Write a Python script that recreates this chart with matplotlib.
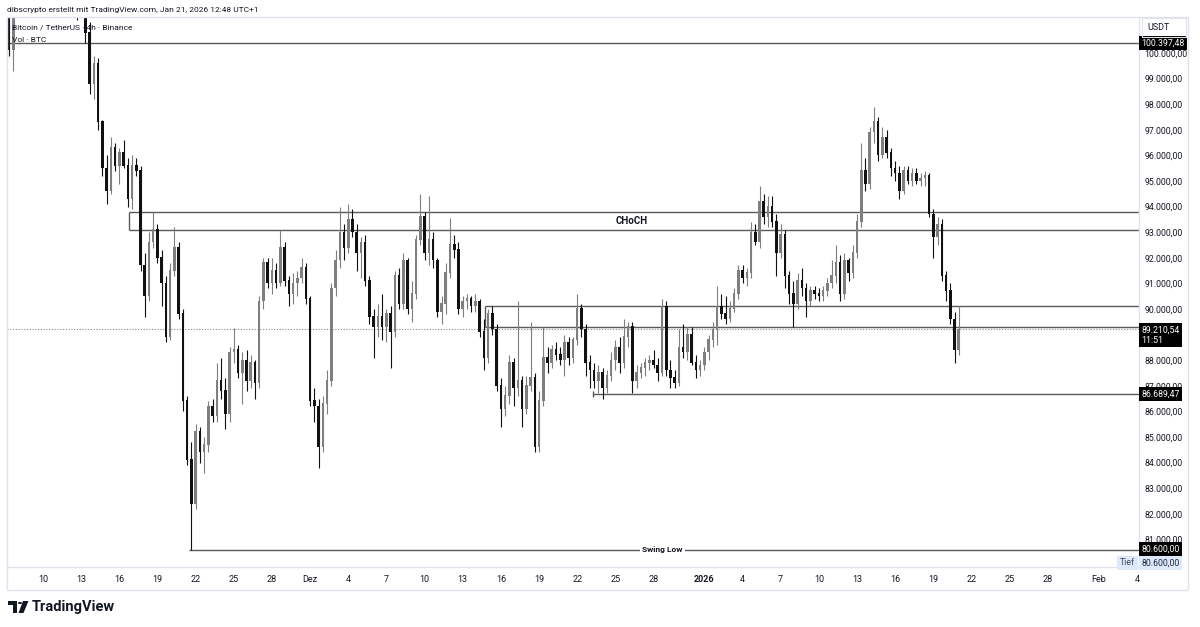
import numpy as np
import matplotlib
matplotlib.use("Agg")
import matplotlib.pyplot as plt
from matplotlib.patches import Rectangle, Polygon, Circle

plt.rcParams['font.family'] = ['Roboto', 'DejaVu Sans']

# 8h candles starting Nov 7 2025 00:00, prices in thousand USDT
first_open = 102.6
close_k = [
    101.8, 100.1, 101.5, 102.8, 102.3, 102.0, 102.5, 103.6, 104.8, 105.9,
    105.4, 106.0, 105.2, 104.1, 103.0, 104.5, 103.2, 102.3, 102.9, 100.8,
    98.8, 99.6, 97.3, 95.5, 94.6, 96.3, 95.6, 96.1, 95.6, 94.3,
    95.6, 95.4, 91.7, 90.5, 92.6, 93.1, 92.0, 91.0, 88.9, 91.5,
    92.4, 89.8, 86.4, 84.1, 82.4, 85.2, 84.4, 84.7, 86.2, 85.8,
    87.2, 86.8, 85.9, 88.3, 88.4, 87.5, 88.0, 87.2, 87.9, 87.1,
    90.3, 91.8, 91.0, 91.5, 91.0, 92.4, 91.1, 90.6, 91.0, 91.2,
    91.6, 90.4, 86.4, 86.2, 84.6, 86.3, 87.2, 90.8, 91.9, 93.0,
    92.4, 93.5, 93.0, 92.2, 92.6, 91.1, 89.7, 89.3, 89.7, 89.3,
    89.8, 89.1, 91.3, 90.2, 91.9, 90.0, 90.6, 92.7, 93.6, 92.2,
    92.7, 91.9, 89.9, 90.2, 91.4, 92.5, 92.3, 90.0, 90.3, 90.4,
    90.1, 90.3, 89.1, 88.1, 89.8, 89.2, 87.0, 86.1, 86.6, 87.9,
    86.9, 87.2, 86.1, 87.0, 87.3, 84.6, 86.4, 88.1, 87.9, 88.4,
    88.2, 88.0, 88.7, 88.1, 88.8, 90.0, 89.2, 87.9, 87.6, 87.2,
    87.5, 86.9, 87.4, 88.0, 88.5, 87.9, 88.9, 89.3, 87.2, 87.5,
    87.7, 87.9, 88.0, 87.8, 87.5, 90.1, 87.6, 87.3, 87.1, 88.5,
    88.3, 89.0, 87.9, 87.6, 87.8, 88.3, 88.8, 89.2, 90.1, 89.8,
    89.6, 90.0, 90.6, 91.5, 91.2, 91.4, 93.0, 92.6, 94.2, 93.6,
    94.0, 93.4, 92.2, 92.9, 91.3, 90.6, 90.2, 91.1, 90.8, 90.3,
    90.7, 90.6, 90.5, 90.7, 91.0, 91.3, 91.8, 90.6, 91.9, 91.4,
    92.2, 93.4, 95.4, 94.9, 96.9, 97.3, 96.0, 96.7, 96.1, 95.5,
    95.3, 94.6, 95.4, 95.0, 95.3, 95.0, 95.1, 95.2, 93.7, 92.8,
    93.3, 91.3, 90.7, 89.6, 88.4, 89.21054,
]
high_k = [
    103.2, 102.0, 101.8, 103.3, 103.0, 102.7, 102.9, 104.0, 105.3, 106.6,
    106.4, 106.3, 107.0, 105.6, 104.3, 105.3, 104.7, 103.6, 103.3, 104.0,
    101.2, 99.9, 99.8, 97.4, 96.0, 96.7, 96.5, 96.3, 96.6, 95.9,
    96.0, 95.9, 95.6, 92.2, 93.0, 93.8, 93.3, 92.3, 91.3, 91.8,
    93.2, 92.6, 90.0, 86.6, 84.8, 85.5, 85.4, 85.0, 86.4, 86.5,
    87.9, 88.1, 87.3, 88.5, 89.25, 88.6, 88.3, 88.4, 88.2, 88.0,
    90.5, 92.0, 92.0, 92.0, 91.8, 93.1, 92.6, 91.3, 91.4, 91.5,
    92.0, 91.8, 90.5, 86.9, 86.5, 86.6, 87.6, 91.0, 92.3, 94.0,
    93.3, 94.1, 93.9, 93.3, 92.8, 92.9, 91.3, 90.0, 90.2, 90.6,
    90.0, 90.1, 91.5, 91.6, 92.2, 92.0, 91.1, 92.9, 94.5, 93.8,
    94.4, 93.0, 92.0, 90.5, 91.8, 93.55, 92.9, 92.6, 90.5, 90.6,
    90.5, 90.6, 90.4, 89.6, 90.0, 90.1, 89.4, 87.3, 87.0, 88.2,
    88.1, 90.3, 87.4, 87.4, 89.5, 87.5, 86.8, 89.3, 88.5, 88.6,
    88.7, 88.5, 89.0, 88.9, 88.9, 90.6, 90.2, 89.4, 88.2, 87.9,
    87.8, 87.7, 87.6, 88.3, 88.8, 88.9, 89.6, 89.5, 89.5, 87.8,
    87.9, 88.1, 88.2, 88.4, 88.1, 90.4, 90.3, 88.0, 87.6, 89.2,
    89.4, 89.3, 89.3, 88.2, 88.0, 88.5, 89.0, 89.5, 90.9, 90.6,
    90.5, 90.3, 90.8, 91.7, 91.7, 91.6, 93.4, 93.3, 94.8, 94.5,
    94.4, 94.4, 93.7, 93.3, 93.1, 91.5, 91.1, 91.4, 91.6, 91.0,
    90.9, 90.9, 90.8, 90.9, 91.2, 91.9, 92.5, 92.1, 92.2, 92.0,
    92.5, 93.7, 96.5, 95.9, 97.1, 97.9, 97.5, 97.1, 97.0, 96.3,
    95.8, 95.6, 95.6, 95.6, 95.5, 95.5, 95.3, 95.4, 95.3, 93.9,
    93.6, 93.5, 91.5, 91.0, 89.9, 90.1,
]
low_k = [
    101.6, 99.9, 99.3, 101.5, 101.8, 101.6, 101.7, 102.3, 103.4, 104.6,
    105.0, 105.1, 104.8, 103.7, 102.6, 102.4, 102.9, 101.3, 101.4, 100.4,
    98.4, 98.2, 97.0, 95.2, 94.1, 94.5, 95.4, 94.9, 95.5, 94.0,
    93.9, 95.2, 91.5, 89.7, 90.3, 92.4, 91.8, 90.1, 88.7, 88.8,
    91.3, 89.6, 86.0, 83.9, 80.6, 82.2, 84.0, 83.6, 84.4, 85.6,
    85.6, 86.5, 85.3, 85.6, 87.9, 87.3, 86.3, 86.8, 86.9, 86.5,
    86.9, 90.0, 90.8, 90.6, 90.8, 90.9, 90.9, 90.1, 90.2, 90.5,
    91.0, 90.2, 86.2, 85.6, 83.8, 84.4, 85.9, 87.0, 90.5, 91.6,
    91.9, 92.2, 92.8, 91.5, 91.2, 90.9, 89.4, 88.1, 88.9, 88.8,
    88.7, 87.7, 88.9, 90.0, 90.0, 89.8, 89.5, 90.4, 92.5, 91.9,
    91.7, 91.6, 89.7, 89.4, 89.8, 91.2, 92.0, 89.8, 89.7, 90.0,
    89.9, 89.9, 88.9, 87.6, 87.9, 89.0, 86.8, 85.4, 85.8, 86.3,
    86.2, 86.6, 85.4, 85.9, 86.8, 84.4, 84.4, 86.2, 87.5, 87.7,
    88.0, 87.8, 87.4, 87.8, 87.9, 88.6, 88.9, 87.4, 86.9, 86.9,
    86.7, 86.5, 86.7, 87.2, 87.6, 87.5, 87.7, 88.5, 86.7, 86.9,
    87.3, 87.4, 87.6, 87.7, 87.2, 87.4, 87.4, 86.9, 86.9, 87.0,
    88.1, 88.0, 87.8, 87.3, 87.4, 87.6, 88.0, 88.5, 88.6, 89.6,
    89.4, 89.5, 89.9, 90.4, 91.0, 90.9, 91.2, 92.5, 92.4, 93.3,
    93.2, 93.2, 91.3, 92.0, 90.8, 90.2, 89.3, 90.0, 90.5, 89.7,
    90.1, 90.4, 90.3, 90.3, 90.5, 90.8, 91.0, 90.3, 90.4, 91.1,
    91.2, 92.0, 93.2, 94.6, 94.7, 96.5, 95.8, 95.9, 95.9, 95.2,
    95.0, 94.3, 94.5, 94.9, 94.8, 94.9, 94.8, 94.8, 93.6, 92.0,
    92.5, 91.1, 90.3, 89.4, 87.9, 88.2,
]

# drawn levels (USDT)
top_level = 100397.48
choch_top, choch_bottom = 93790.0, 93090.0
box_top, box_bottom = 90120.0, 89300.0
support_level = 86689.47
swing_low = 80600.00
last_price = 89210.54

# x axis labels (day offset from Nov 7)
tick_days = [3, 6, 9, 12, 15, 18, 21, 24, 27, 30, 33, 36, 39, 42, 45, 48, 51,
             55, 58, 61, 64, 67, 70, 73, 76, 79, 82, 86, 89]
tick_labels = ['10', '13', '16', '19', '22', '25', '28', 'Dez', '4', '7', '10',
               '13', '16', '19', '22', '25', '28', '2026', '4', '7', '10', '13',
               '16', '19', '22', '25', '28', 'Feb', '4']

close = np.array(close_k) * 1000
high = np.array(high_k) * 1000
low = np.array(low_k) * 1000
opn = np.concatenate([[first_open * 1000], close[:-1]])
t = np.arange(len(close)) / 3.0

W, H = 1200, 627
fig = plt.figure(figsize=(12, 6.27), dpi=100)
fig.patch.set_facecolor('white')

def fx(px):
    return px / W

def fy(py):
    return 1 - py / H

ax = fig.add_axes([fx(7), fy(567), fx(1139 - 7), (567 - 17) / H])
ax.set_xlim(0.17, 89.17)
ax.set_ylim(79920, 101406)

up = close >= opn
col_up, col_dn = '#7f7f7f', '#111111'
colors = np.where(up, col_up, col_dn)
ax.vlines(t, low, high, colors=colors, linewidth=0.8, zorder=3)
ax.bar(t, np.abs(close - opn) + 25, bottom=np.minimum(opn, close), width=0.2,
       color=colors, linewidth=0, zorder=4)

# drawings
lc = '#5a5a5a'
x_end = 89.17
ax.hlines(top_level, 0.17, x_end, color=lc, lw=1.0, zorder=2)
ax.hlines([choch_top, choch_bottom], 9.76, x_end, color=lc, lw=1.0, zorder=2)
ax.vlines(9.76, choch_bottom, choch_top, color=lc, lw=1.0, zorder=2)
ax.text(49.3, (choch_top + choch_bottom) / 2, 'CHoCH', ha='center', va='center',
        fontsize=7, fontweight='bold', color='#131722', zorder=5)
ax.hlines([box_top, box_bottom], 37.75, x_end, color=lc, lw=1.0, zorder=2)
ax.vlines(37.75, box_bottom, box_top, color=lc, lw=1.0, zorder=2)
ax.hlines(support_level, 46.24, x_end, color=lc, lw=1.0, zorder=2)
ax.vlines(46.24, support_level - 120, support_level + 120, color=lc, lw=1.0, zorder=2)
ax.hlines(swing_low, 14.48, x_end, color=lc, lw=1.0, zorder=2)
ax.text(51.7, swing_low, 'Swing Low', ha='center', va='center', fontsize=6,
        fontweight='semibold', color='#131722', zorder=5,
        bbox=dict(boxstyle='square,pad=0.25', fc='white', ec='none'))
ax.axhline(last_price, color='#8a8a8a', lw=0.8, ls=(0, (1, 1.5)), zorder=1)

# axes styling
for s in ['left', 'top']:
    ax.spines[s].set_visible(False)
for s in ['right', 'bottom']:
    ax.spines[s].set_color('#e0e3eb')
    ax.spines[s].set_linewidth(1)

def de_fmt(v):
    return f"{v:,.2f}".replace(",", "X").replace(".", ",").replace("X", ".")

yt = [v * 1000 for v in range(81, 101) if v != 89]
ax.yaxis.tick_right()
ax.set_yticks(yt)
ax.set_yticklabels([de_fmt(v) for v in yt])
ax.tick_params(axis='y', length=0, pad=4, labelsize=6.3, labelcolor='#131722')
ax.set_xticks(tick_days)
ax.set_xticklabels(tick_labels)
ax.tick_params(axis='x', length=0, pad=6, labelsize=6.5, labelcolor='#131722')
for lab in ax.get_xticklabels():
    if lab.get_text() == '2026':
        lab.set_fontweight('bold')

# price labels on the axis
tr = ax.get_yaxis_transform()
box = dict(boxstyle='square,pad=0.3', fc='black', ec='none')
for lvl in [top_level, support_level, swing_low]:
    ax.text(1.002, lvl, de_fmt(lvl), transform=tr, ha='left', va='center',
            fontsize=6.3, color='white', bbox=box, clip_on=False, zorder=6)
ax.text(1.002, last_price + 150, de_fmt(last_price) + '\n11:51', transform=tr,
        ha='left', va='top', fontsize=6.3, color='white', linespacing=1.2,
        bbox=dict(boxstyle='square,pad=0.3', fc='black', ec='none'),
        clip_on=False, zorder=6)
ax.text(1.002, 80080, de_fmt(swing_low), transform=tr, ha='left', va='center',
        fontsize=6.3, color='#1e2a4a', clip_on=False, zorder=6,
        bbox=dict(boxstyle='square,pad=0.3', fc='#dde9fa', ec='none'))
ax.text(0.9965, 80080, 'Tief', transform=tr, ha='right', va='center',
        fontsize=6.3, color='#3c4a66', clip_on=False, zorder=6,
        bbox=dict(boxstyle='square,pad=0.3', fc='#dde9fa', ec='none'))

# frame and header
fig.patches.append(Rectangle((fx(7), fy(590)), fx(1188 - 7), (590 - 17) / H,
                             transform=fig.transFigure, fill=False,
                             ec='#e0e3eb', lw=1))
fig.patches.append(Rectangle((fx(1142), fy(37)), fx(1186 - 1142), (37 - 18) / H,
                             transform=fig.transFigure, fill=False,
                             ec='#e0e3eb', lw=0.8))
fig.text(fx(1147), fy(27.5), 'USDT', fontsize=6.5, color='#131722', va='center')
fig.text(fx(7), fy(10), 'dibscrypto erstellt mit TradingView.com, Jan 21, 2026 12:48 UTC+1',
         fontsize=6.0, color='#131722', va='center')
fig.text(fx(12), fy(28), 'Bitcoin / TetherUS · 4h · Binance', fontsize=6.0,
         color='#131722', va='center')
fig.text(fx(12), fy(40), 'Vol · BTC', fontsize=6.0, color='#131722', va='center')

# TradingView logo
fig.patches.append(Polygon([(fx(8), fy(601)), (fx(17), fy(601)), (fx(17), fy(613)),
                            (fx(12.5), fy(613)), (fx(12.5), fy(605)), (fx(8), fy(605))],
                           closed=True, transform=fig.transFigure, fc='#131722'))
fig.patches.append(Circle((fx(20), fy(603)), 2.0 / W, transform=fig.transFigure,
                          fc='#131722'))
fig.patches.append(Polygon([(fx(23), fy(601)), (fx(28.5), fy(601)), (fx(23.5), fy(613)),
                            (fx(18.5), fy(613))], closed=True,
                           transform=fig.transFigure, fc='#131722'))
fig.text(fx(32), fy(607), 'TradingView', fontsize=10.5, fontweight='bold',
         color='#131722', va='center')

fig.savefig('out.png', dpi=100)
